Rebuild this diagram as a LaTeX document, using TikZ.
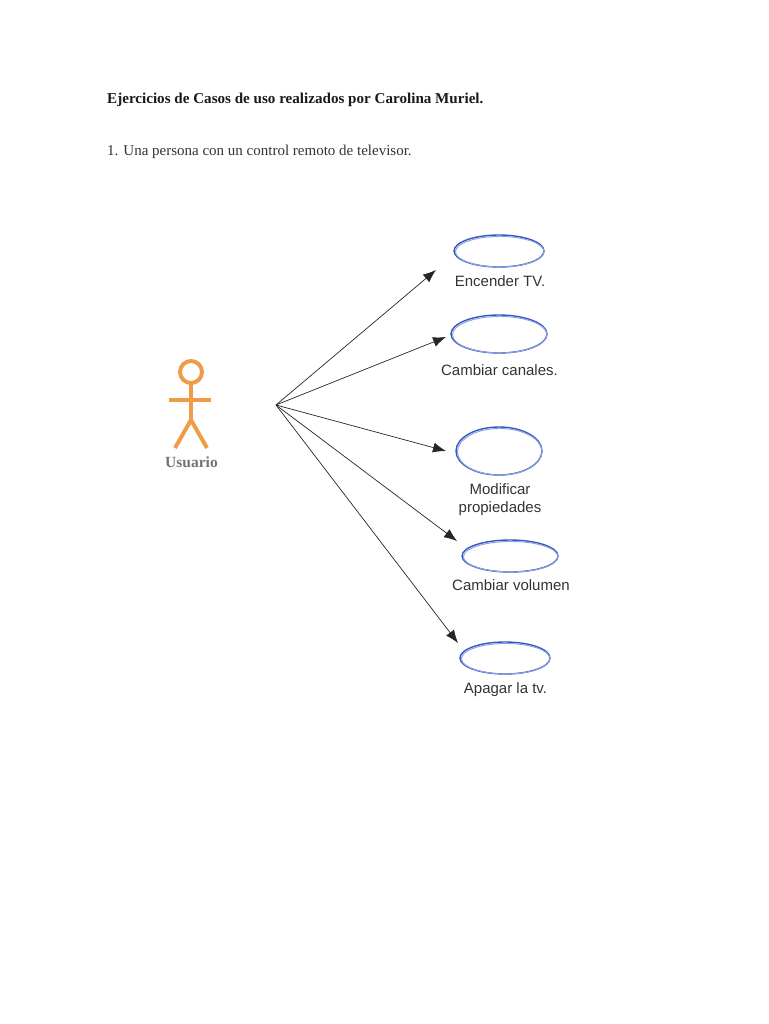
\documentclass[tikz,border=0pt]{standalone}
\usepackage{fontspec}
\setmainfont{Liberation Serif}
\setsansfont{Liberation Sans}
\usetikzlibrary{arrows.meta,shapes.geometric}
\definecolor{actororange}{HTML}{EE9C48}
\definecolor{ovalblue}{HTML}{3557C4}
\definecolor{inktext}{HTML}{333333}
\begin{document}
\begin{tikzpicture}[
		x=1pt, y=-1pt,
		title/.style={font=\rmfamily\bfseries\fontsize{15.1}{17}\selectfont, text=black!90, anchor=west, inner sep=0pt},
		body/.style={font=\rmfamily\fontsize{15}{17}\selectfont, text=inktext, anchor=west, inner sep=0pt},
		oval/.style={ellipse, draw=ovalblue, line width=1.4pt, inner sep=0pt},
		caselabel/.style={font=\sffamily\fontsize{15}{18}\selectfont, text=inktext, align=center, inner sep=0pt},
		limb/.style={actororange, line width=4pt},
		link/.style={-{Latex[length=13pt,width=10pt]}, line width=0.7pt, black!85}
		]
		\useasboundingbox (0,0) rectangle (768,1024);
		
		% ---------------------------------------------------------
		% Heading
		% ---------------------------------------------------------
		\node[title] (heading) at (107, 99.5) {Ejercicios de Casos de uso realizados por Carolina Muriel.};
		\node[body] (statement) at (107, 151.5) {1. Una persona con un control remoto de televisor.};
		
		% ---------------------------------------------------------
		% Actor
		% ---------------------------------------------------------
		\draw[limb] (191, 372) circle (11);
		\draw[limb] (191, 384) -- (191, 421);
		\draw[limb, line width=3.2pt] (169, 400) -- (211, 400);
		\draw[limb] (191, 420) -- (175, 448);
		\draw[limb] (191, 420) -- (207, 448);
		\node[font=\rmfamily\bfseries\fontsize{15.5}{17}\selectfont, text=black!55] (usuario) at (191.5, 462) {Usuario};
		
		% ---------------------------------------------------------
		% Use cases: name / centre / half axes
		% ---------------------------------------------------------
		\foreach \name/\cx/\cy/\rx/\ry in {encender/499/251/45/16, canales/499/334/48/19, propiedades/499/451/43/24, volumen/510/556/48/16, apagar/505/658/45/16} {
			\node[oval, minimum width=2*\rx, minimum height=2*\ry] (\name) at (\cx, \cy) {};
			\node[oval, draw=ovalblue!55, line width=1pt, minimum width=2*\rx-1.5, minimum height=2*\ry-1.5] (\name inner) at (\cx+0.7, \cy+0.7) {};
		}
		
		% Labels
		\node[caselabel] (encender text) at (500, 281.5) {Encender TV.};
		\node[caselabel] (canales text) at (499.5, 370.5) {Cambiar canales.};
		\node[caselabel] (propiedades text) at (500, 499.5) {Modificar\\propiedades};
		\node[caselabel] (volumen text) at (511, 585.5) {Cambiar volumen};
		\node[caselabel] (apagar text) at (505.5, 689.5) {Apagar la tv.};
		
		% ---------------------------------------------------------
		% Arrows from the actor
		% ---------------------------------------------------------
		\coordinate (hub) at (276, 405);
		\foreach \target/\tx/\ty in {encender/436/270, canales/446/337, propiedades/446/451, volumen/457/541, apagar/458/643} {
			\coordinate (\target tip) at (\tx, \ty);
			\draw[link] (hub) -- (\target tip);
		}
		
	\end{tikzpicture}
\end{document}
